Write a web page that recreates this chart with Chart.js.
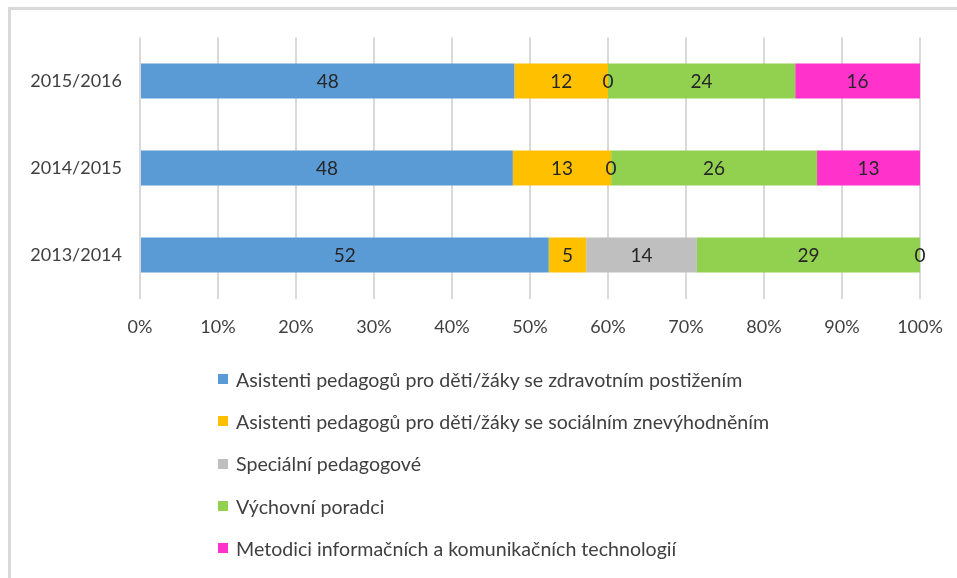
<!DOCTYPE html>
<html>
<head>
<meta charset="utf-8">
<script src="https://cdn.jsdelivr.net/npm/chart.js@4.4.1/dist/chart.umd.min.js"></script>
<style>
  html, body { margin:0; padding:0; background:#fff; width:957px; height:578px; overflow:hidden; }
  #frame { position:absolute; left:8px; top:7px; width:1000px; height:620px; border:3px solid #d9d9d9; box-sizing:border-box; }
  #wrap { position:absolute; left:0; top:0; width:957px; height:578px; }
  #legend { position:absolute; left:218px; top:358px; font-family: Lato, "Open Sans", sans-serif; font-size:19.6px; color:#404040; }
  .item { height:42.3px; display:flex; align-items:center; margin:0; }
  .sw { width:10px; height:10px; margin-right:8px; flex:none; }
</style>
</head>
<body>
<div id="frame"></div>
<div id="wrap"><canvas id="c" width="957" height="578"></canvas></div>
<div id="legend"></div>
<script>
const categories = ['2015/2016', '2014/2015', '2013/2014'];
const seriesNames = [
  'Asistenti pedagogů pro děti/žáky se zdravotním postižením',
  'Asistenti pedagogů pro děti/žáky se sociálním znevýhodněním',
  'Speciální pedagogové',
  'Výchovní poradci',
  'Metodici informačních a komunikačních technologií'
];
const asistentiZdrav = [48, 47.8, 52.4];
const asistentiSoc   = [12, 12.6, 4.8];
const specialni      = [0, 0, 14.2];
const vychovni       = [24, 26.4, 28.6];
const metodici       = [16, 13.2, 0];
const seriesColors = ['#5B9BD5', '#FFC000', '#BFBFBF', '#92D050', '#FF33CC'];
const xTicks = [0, 10, 20, 30, 40, 50, 60, 70, 80, 90, 100];

const seriesValues = [asistentiZdrav, asistentiSoc, specialni, vychovni, metodici];
const FONT = 'Lato, "Open Sans", sans-serif';

const valueLabels = {
  id: 'valueLabels',
  afterDatasetsDraw(chart) {
    const ctx = chart.ctx;
    ctx.save();
    ctx.font = '19px ' + FONT;
    ctx.fillStyle = '#262626';
    ctx.textAlign = 'center';
    ctx.textBaseline = 'middle';
    chart.data.datasets.forEach((ds, di) => {
      const meta = chart.getDatasetMeta(di);
      meta.data.forEach((el, i) => {
        const p = el.getCenterPoint();
        ctx.fillText(String(Math.round(ds.data[i])), p.x, p.y + 1);
      });
    });
    ctx.restore();
  }
};

new Chart(document.getElementById('c'), {
  type: 'bar',
  data: {
    labels: categories,
    datasets: seriesNames.map((n, i) => ({
      label: n,
      data: seriesValues[i],
      backgroundColor: seriesColors[i],
      borderWidth: 0,
      barPercentage: 0.4,
      categoryPercentage: 1.0
    }))
  },
  options: {
    indexAxis: 'y',
    responsive: false,
    animation: false,
    layout: { padding: { left: 0, right: 37, top: 37.5, bottom: 229.5 } },
    plugins: { legend: { display: false }, tooltip: { enabled: false } },
    scales: {
      x: {
        stacked: true, min: 0, max: 100,
        afterBuildTicks(scale) { scale.ticks = xTicks.map(v => ({ value: v })); },
        afterFit(scale) { scale.height = 50; scale.paddingLeft = 0; scale.paddingRight = 0; },
        grid: { color: '#d9d9d9', lineWidth: 2, drawTicks: false },
        border: { display: false },
        ticks: { padding: 18, color: '#404040', font: { family: FONT, size: 18 }, callback: v => v + '%', maxRotation: 0 }
      },
      y: {
        stacked: true,
        afterFit(scale) { scale.width = 140; scale.paddingTop = 0; scale.paddingBottom = 0; },
        grid: { display: false, drawTicks: false },
        border: { display: false },
        ticks: { padding: 18, color: '#404040', font: { family: FONT, size: 18 } }
      }
    }
  },
  plugins: [valueLabels]
});

const lg = document.getElementById('legend');
seriesNames.forEach((n, i) => {
  const d = document.createElement('div');
  d.className = 'item';
  d.innerHTML = '<span class="sw" style="background:' + seriesColors[i] + '"></span><span></span>';
  d.lastChild.textContent = n;
  lg.appendChild(d);
});
</script>
</body>
</html>
